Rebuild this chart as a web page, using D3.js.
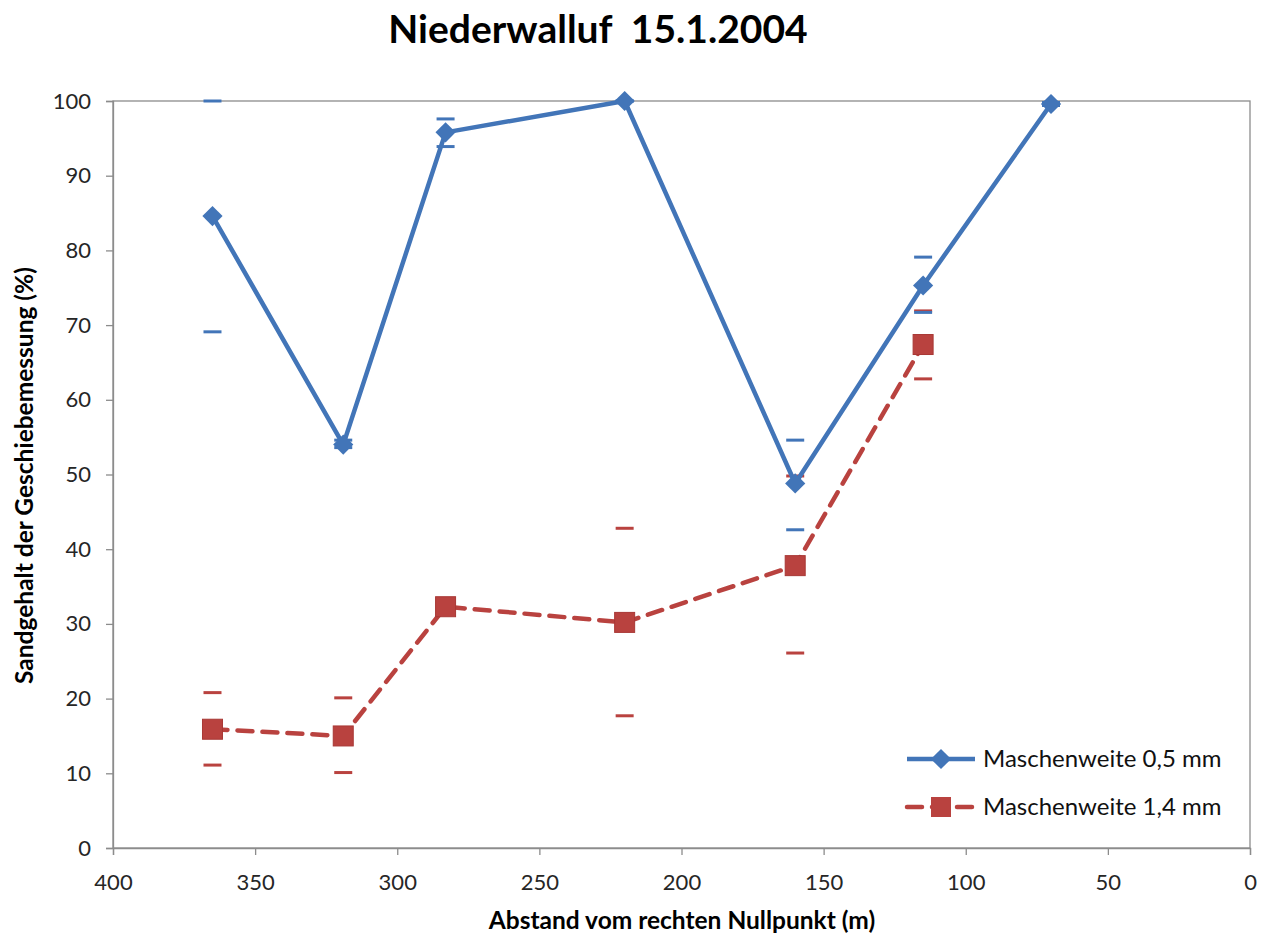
<!DOCTYPE html>
<html>
<head>
<meta charset="utf-8">
<script src="https://cdn.jsdelivr.net/npm/d3@7"></script>
<style>
body{margin:0;background:#fff;}
text{font-family:Lato,"Open Sans",sans-serif;}
</style>
</head>
<body>
<svg id="chart" width="1263" height="939"></svg>
<script>
/* values */
var distances = [365, 319, 283, 220, 160, 115, 70];
var fine = [84.6, 54.0, 95.8, 100, 48.8, 75.3, 99.6];
var fineHigh = [100, 54.6, 97.6, 100, 54.6, 79.1, 99.8];
var fineLow = [69.1, 53.6, 93.9, 100, 42.6, 71.7, 99.4];
var coarse = [15.9, 15.0, 32.3, 30.2, 37.8, 67.4];
var coarseHigh = [20.8, 20.1, 33.0, 42.8, 49.8, 71.9];
var coarseLow = [11.1, 10.1, 31.6, 17.7, 26.1, 62.8];
var xTicks = [400, 350, 300, 250, 200, 150, 100, 50, 0];
var yTicks = [0, 10, 20, 30, 40, 50, 60, 70, 80, 90, 100];
var seriesNames = ["Maschenweite 0,5 mm", "Maschenweite 1,4 mm"];

var svg = d3.select("#chart");
var m = {left:113, right:13, top:101, bottom:91};
var W = 1263, H = 939;
var x = d3.scaleLinear().domain([400, 0]).range([m.left, W - m.right]);
var y = d3.scaleLinear().domain([0, 100]).range([H - m.bottom, m.top]);

var blue = "#4275B8", red = "#B9423F", grey = "#8c8c8c";

// plot border
svg.append("rect")
    .attr("x", x(400)).attr("y", y(100))
    .attr("width", x(0) - x(400)).attr("height", y(0) - y(100))
    .attr("fill", "none").attr("stroke", grey).attr("stroke-width", 1.3);

var xa = svg.append("g")
    .attr("transform", "translate(0," + y(0) + ")")
    .call(d3.axisBottom(x).tickValues(xTicks).tickSize(7).tickPadding(19));
var ya = svg.append("g")
    .attr("transform", "translate(" + x(400) + ",0)")
    .call(d3.axisLeft(y).tickValues(yTicks).tickSize(7).tickPadding(15));
[xa, ya].forEach(function(a){
    a.select(".domain").attr("stroke", grey).attr("stroke-width", 1.3);
    a.selectAll(".tick line").attr("stroke", grey).attr("stroke-width", 1.3);
    a.selectAll(".tick text").attr("fill", "#262626").style("font-size", "22px")
	.style("font-family", "Lato,'Open Sans',sans-serif");
});

// error caps (no stems in the original)
function caps(vals, xs, color){
    svg.append("g").selectAll("line").data(vals).enter().append("line")
	.attr("x1", function(d, i){ return x(xs[i]) - 9; })
	.attr("x2", function(d, i){ return x(xs[i]) + 9; })
	.attr("y1", function(d){ return y(d); })
	.attr("y2", function(d){ return y(d); })
	.attr("stroke", color).attr("stroke-width", 3);
}

var line = d3.line()
    .x(function(d){ return x(d[0]); })
    .y(function(d){ return y(d[1]); });

// coarse series (red dashed, squares)
var coarsePts = coarse.map(function(v, i){ return [distances[i], v]; });
caps(coarseHigh, distances, red);
caps(coarseLow, distances, red);
svg.append("path").datum(coarsePts).attr("d", line)
    .attr("fill", "none").attr("stroke", red).attr("stroke-width", 4.5)
    .attr("stroke-dasharray", "15,10").attr("stroke-linecap", "round");
svg.append("g").selectAll("rect").data(coarsePts).enter().append("rect")
    .attr("x", function(d){ return x(d[0]) - 10; })
    .attr("y", function(d){ return y(d[1]) - 10; })
    .attr("width", 20).attr("height", 20)
    .attr("fill", red).attr("stroke", "#a83835").attr("stroke-width", 1);

// fine series (blue solid, diamonds)
var finePts = fine.map(function(v, i){ return [distances[i], v]; });
caps(fineHigh, distances, blue);
caps(fineLow, distances, blue);
svg.append("path").datum(finePts).attr("d", line)
    .attr("fill", "none").attr("stroke", blue).attr("stroke-width", 4.5)
    .attr("stroke-linejoin", "round");
var diamond = d3.symbol().type(d3.symbolDiamond2).size(260);
svg.append("g").selectAll("path").data(finePts).enter().append("path")
    .attr("d", diamond)
    .attr("transform", function(d){ return "translate(" + x(d[0]) + "," + y(d[1]) + ")"; })
    .attr("fill", blue);

// titles
svg.append("text").attr("x", 598).attr("y", 43).attr("text-anchor", "middle")
    .style("font-size", "39px").style("font-weight", "bold").attr("fill", "#000")
    .attr("xml:space", "preserve")
    .text("Niederwalluf  15.1.2004");
svg.append("text").attr("x", 682).attr("y", 929).attr("text-anchor", "middle")
    .style("font-size", "24.5px").style("font-weight", "bold").attr("fill", "#000")
    .text("Abstand vom rechten Nullpunkt (m)");
svg.append("text")
    .attr("transform", "translate(33," + (y(50) + 1) + ") rotate(-90)")
    .attr("text-anchor", "middle")
    .style("font-size", "24.5px").style("font-weight", "bold").attr("fill", "#000")
    .text("Sandgehalt der Geschiebemessung (%)");

// legend
var lg = svg.append("g").attr("transform", "translate(907,759)");
lg.append("line").attr("x1", 0).attr("x2", 68).attr("y1", 0).attr("y2", 0)
    .attr("stroke", blue).attr("stroke-width", 4.5);
lg.append("path").attr("d", diamond).attr("transform", "translate(34,0)").attr("fill", blue);
lg.append("line").attr("x1", 0).attr("x2", 68).attr("y1", 48).attr("y2", 48)
    .attr("stroke", red).attr("stroke-width", 4.5)
    .attr("stroke-dasharray", "15,10").attr("stroke-linecap", "round");
lg.append("rect").attr("x", 24).attr("y", 38).attr("width", 20).attr("height", 20).attr("fill", red);
lg.selectAll("text.lab").data(seriesNames).enter().append("text")
    .attr("x", 76).attr("y", function(d, i){ return i * 48 + 8; })
    .style("font-size", "24px").attr("fill", "#111")
    .text(function(d){ return d; });
</script>
</body>
</html>
